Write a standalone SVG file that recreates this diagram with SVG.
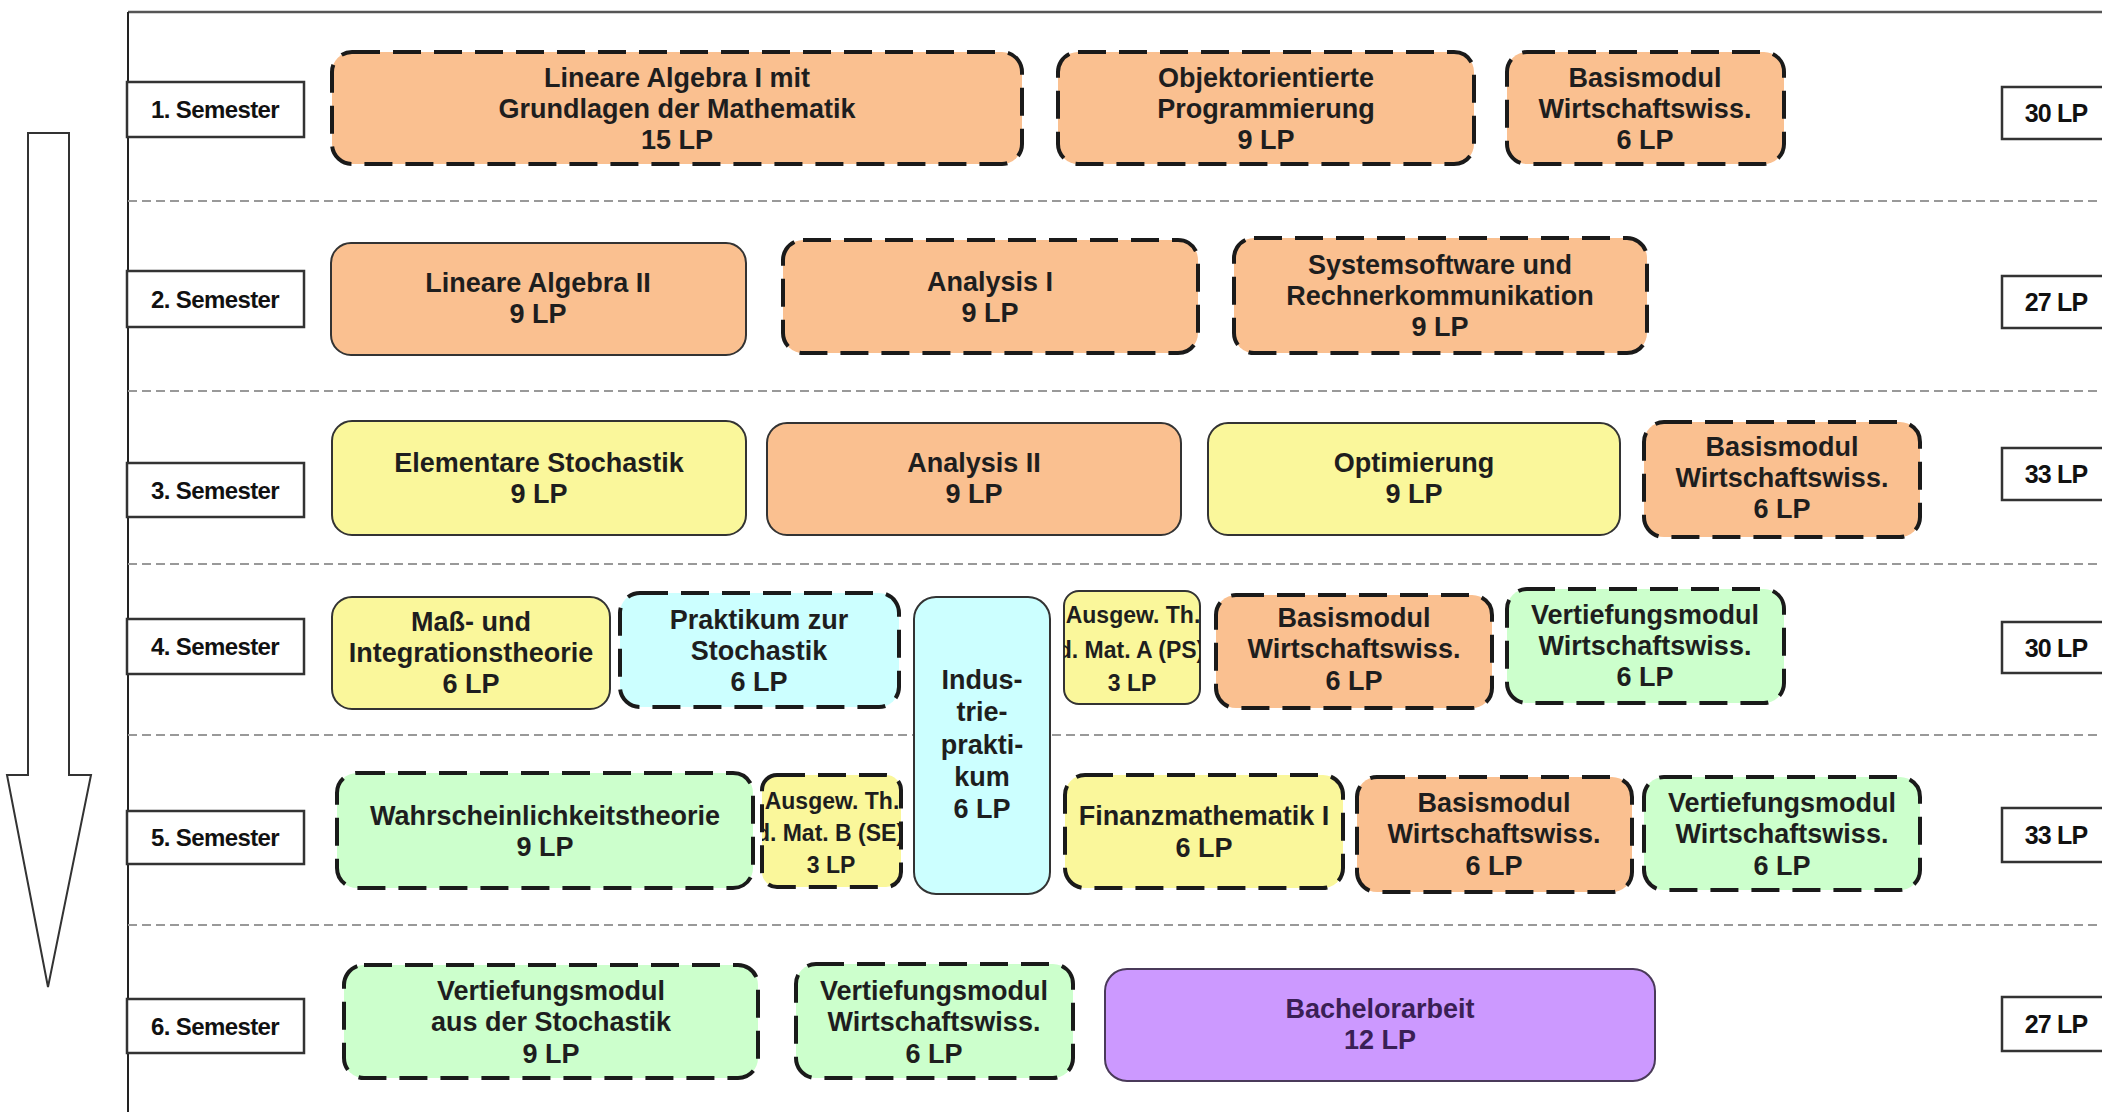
<svg xmlns="http://www.w3.org/2000/svg" width="2102" height="1112" viewBox="0 0 2102 1112">
<style>
.t{font-family:"Liberation Sans",Arial,sans-serif;font-weight:bold;font-size:27px;text-anchor:middle;fill:#1e1e1e}
.s{font-size:23px}
.lbl{font-family:"Liberation Sans",Arial,sans-serif;font-weight:bold;font-size:24px;letter-spacing:-0.6px;text-anchor:middle;fill:#111}
.lp{font-family:"Liberation Sans",Arial,sans-serif;font-weight:bold;font-size:25px;letter-spacing:-0.8px;text-anchor:middle;fill:#111}
.box{fill:#fff;stroke:#333;stroke-width:2.5}
.dash{stroke:#1a1a1a;stroke-width:4;stroke-dasharray:28 13}
.solid{stroke:#333;stroke-width:2}
.or{fill:#FAC090}.ye{fill:#FAF79B}.bl{fill:#CCFFFF}.gr{fill:#CCFFCC}.pu{fill:#CC99FF;stroke:#4a3a5a}
.sep{stroke:#999;stroke-width:2;stroke-dasharray:9 5;fill:none}
</style>
<defs>
<clipPath id="clipA"><rect x="1064" y="591" width="136" height="113" rx="15"/></clipPath>
<clipPath id="clipB"><rect x="762" y="775" width="139" height="112" rx="15"/></clipPath>
</defs>
<rect width="2102" height="1112" fill="#fff"/>
<g id="frame">
<line x1="128" y1="12" x2="2102" y2="12" stroke="#555" stroke-width="2.5"/>
<line x1="128" y1="12" x2="128" y2="1112" stroke="#222" stroke-width="2"/>
<line class="sep" x1="128" y1="201" x2="2102" y2="201"/>
<line class="sep" x1="128" y1="391" x2="2102" y2="391"/>
<line class="sep" x1="128" y1="564" x2="2102" y2="564"/>
<line class="sep" x1="128" y1="735" x2="2102" y2="735"/>
<line class="sep" x1="128" y1="925" x2="2102" y2="925"/>
</g>
<g id="connectors">
<polygon points="28,133 69,133 69,775 91,775 48,987 7,775 28,775" fill="#fff" stroke="#333" stroke-width="2"/>
</g>
<g id="semester-labels">
<g id="sem1"><rect class="box" x="127" y="82" width="177" height="55"/><text class="lbl" x="215" y="118">1. Semester</text></g>
<g id="sem2"><rect class="box" x="127" y="271" width="177" height="56"/><text class="lbl" x="215" y="308">2. Semester</text></g>
<g id="sem3"><rect class="box" x="127" y="463" width="177" height="54"/><text class="lbl" x="215" y="499">3. Semester</text></g>
<g id="sem4"><rect class="box" x="127" y="619" width="177" height="55"/><text class="lbl" x="215" y="655">4. Semester</text></g>
<g id="sem5"><rect class="box" x="127" y="811" width="177" height="53"/><text class="lbl" x="215" y="846">5. Semester</text></g>
<g id="sem6"><rect class="box" x="127" y="999" width="177" height="54"/><text class="lbl" x="215" y="1035">6. Semester</text></g>
</g>
<g id="lp-labels">
<g id="lp1"><rect class="box" x="2002" y="87" width="110" height="52"/><text class="lp" x="2056" y="122">30 LP</text></g>
<g id="lp2"><rect class="box" x="2002" y="276" width="110" height="52"/><text class="lp" x="2056" y="311">27 LP</text></g>
<g id="lp3"><rect class="box" x="2002" y="448" width="110" height="52"/><text class="lp" x="2056" y="483">33 LP</text></g>
<g id="lp4"><rect class="box" x="2002" y="622" width="110" height="51"/><text class="lp" x="2056" y="657">30 LP</text></g>
<g id="lp5"><rect class="box" x="2002" y="808" width="110" height="54"/><text class="lp" x="2056" y="844">33 LP</text></g>
<g id="lp6"><rect class="box" x="2002" y="997" width="110" height="54"/><text class="lp" x="2056" y="1033">27 LP</text></g>
</g>
<g id="n-la1"><rect class="or dash" x="332" y="52" width="690" height="112" rx="20"/>
<text class="t" x="677" y="87">Lineare Algebra I mit</text><text class="t" x="677" y="118">Grundlagen der Mathematik</text><text class="t" x="677" y="149">15 LP</text></g>
<g id="n-oop"><rect class="or dash" x="1058" y="52" width="416" height="112" rx="20"/>
<text class="t" x="1266" y="87">Objektorientierte</text><text class="t" x="1266" y="118">Programmierung</text><text class="t" x="1266" y="149">9 LP</text></g>
<g id="n-bw1"><rect class="or dash" x="1507" y="52" width="277" height="112" rx="20"/>
<text class="t" x="1645" y="87">Basismodul</text><text class="t" x="1645" y="118">Wirtschaftswiss.</text><text class="t" x="1645" y="149">6 LP</text></g>
<g id="n-la2"><rect class="or solid" x="331" y="243" width="415" height="112" rx="20"/>
<text class="t" x="538" y="292">Lineare Algebra II</text><text class="t" x="538" y="323">9 LP</text></g>
<g id="n-an1"><rect class="or dash" x="783" y="240" width="415" height="113" rx="20"/>
<text class="t" x="990" y="291">Analysis I</text><text class="t" x="990" y="322">9 LP</text></g>
<g id="n-sys"><rect class="or dash" x="1234" y="238" width="413" height="115" rx="20"/>
<text class="t" x="1440" y="274">Systemsoftware und</text><text class="t" x="1440" y="305">Rechnerkommunikation</text><text class="t" x="1440" y="336">9 LP</text></g>
<g id="n-es"><rect class="ye solid" x="332" y="421" width="414" height="114" rx="20"/>
<text class="t" x="539" y="472">Elementare Stochastik</text><text class="t" x="539" y="503">9 LP</text></g>
<g id="n-an2"><rect class="or solid" x="767" y="423" width="414" height="112" rx="20"/>
<text class="t" x="974" y="472">Analysis II</text><text class="t" x="974" y="503">9 LP</text></g>
<g id="n-opt"><rect class="ye solid" x="1208" y="423" width="412" height="112" rx="20"/>
<text class="t" x="1414" y="472">Optimierung</text><text class="t" x="1414" y="503">9 LP</text></g>
<g id="n-bw3"><rect class="or dash" x="1644" y="422" width="276" height="115" rx="20"/>
<text class="t" x="1782" y="456">Basismodul</text><text class="t" x="1782" y="487">Wirtschaftswiss.</text><text class="t" x="1782" y="518">6 LP</text></g>
<g id="n-mass"><rect class="ye solid" x="332" y="597" width="278" height="112" rx="20"/>
<text class="t" x="471" y="631">Maß- und</text><text class="t" x="471" y="662">Integrationstheorie</text><text class="t" x="471" y="693">6 LP</text></g>
<g id="n-prs"><rect class="bl dash" x="620" y="593" width="279" height="114" rx="20"/>
<text class="t" x="759" y="629">Praktikum zur</text><text class="t" x="759" y="660">Stochastik</text><text class="t" x="759" y="691">6 LP</text></g>
<g id="n-ind"><rect class="bl solid" x="914" y="597" width="136" height="297" rx="22"/>
<text class="t" x="982" y="689">Indus-</text><text class="t" x="982" y="721">trie-</text><text class="t" x="982" y="754">prakti-</text><text class="t" x="982" y="786">kum</text><text class="t" x="982" y="818">6 LP</text></g>
<g id="n-agA"><rect class="ye solid" x="1064" y="591" width="136" height="113" rx="15"/>
<g clip-path="url(#clipA)"><text class="t s" x="1133" y="623">Ausgew. Th.</text><text class="t s" x="1131" y="658">d. Mat. A (PS)</text><text class="t s" x="1132" y="691">3 LP</text></g></g>
<g id="n-bw4"><rect class="or dash" x="1216" y="595" width="276" height="113" rx="20"/>
<text class="t" x="1354" y="627">Basismodul</text><text class="t" x="1354" y="658">Wirtschaftswiss.</text><text class="t" x="1354" y="690">6 LP</text></g>
<g id="n-vw4"><rect class="gr dash" x="1507" y="589" width="277" height="114" rx="20"/>
<text class="t" x="1645" y="624">Vertiefungsmodul</text><text class="t" x="1645" y="655">Wirtschaftswiss.</text><text class="t" x="1645" y="686">6 LP</text></g>
<g id="n-wt"><rect class="gr dash" x="337" y="773" width="416" height="115" rx="20"/>
<text class="t" x="545" y="825">Wahrscheinlichkeitstheorie</text><text class="t" x="545" y="856">9 LP</text></g>
<g id="n-agB"><rect class="ye dash" x="762" y="775" width="139" height="112" rx="15"/>
<g clip-path="url(#clipB)"><text class="t s" x="832" y="809">Ausgew. Th.</text><text class="t s" x="830" y="841">d. Mat. B (SE)</text><text class="t s" x="831" y="873">3 LP</text></g></g>
<g id="n-fin"><rect class="ye dash" x="1065" y="775" width="278" height="113" rx="20"/>
<text class="t" x="1204" y="825">Finanzmathematik I</text><text class="t" x="1204" y="857">6 LP</text></g>
<g id="n-bw5"><rect class="or dash" x="1357" y="777" width="275" height="115" rx="20"/>
<text class="t" x="1494" y="812">Basismodul</text><text class="t" x="1494" y="843">Wirtschaftswiss.</text><text class="t" x="1494" y="875">6 LP</text></g>
<g id="n-vw5"><rect class="gr dash" x="1644" y="777" width="276" height="113" rx="20"/>
<text class="t" x="1782" y="812">Vertiefungsmodul</text><text class="t" x="1782" y="843">Wirtschaftswiss.</text><text class="t" x="1782" y="875">6 LP</text></g>
<g id="n-vs6"><rect class="gr dash" x="344" y="965" width="414" height="113" rx="20"/>
<text class="t" x="551" y="1000">Vertiefungsmodul</text><text class="t" x="551" y="1031">aus der Stochastik</text><text class="t" x="551" y="1063">9 LP</text></g>
<g id="n-vw6"><rect class="gr dash" x="796" y="964" width="277" height="114" rx="20"/>
<text class="t" x="934" y="1000">Vertiefungsmodul</text><text class="t" x="934" y="1031">Wirtschaftswiss.</text><text class="t" x="934" y="1063">6 LP</text></g>
<g id="n-ba"><rect class="pu" stroke-width="2" x="1105" y="969" width="550" height="112" rx="22"/>
<text class="t" x="1380" y="1018" style="fill:#3a1f55">Bachelorarbeit</text><text class="t" x="1380" y="1049" style="fill:#3a1f55">12 LP</text></g>
</svg>
